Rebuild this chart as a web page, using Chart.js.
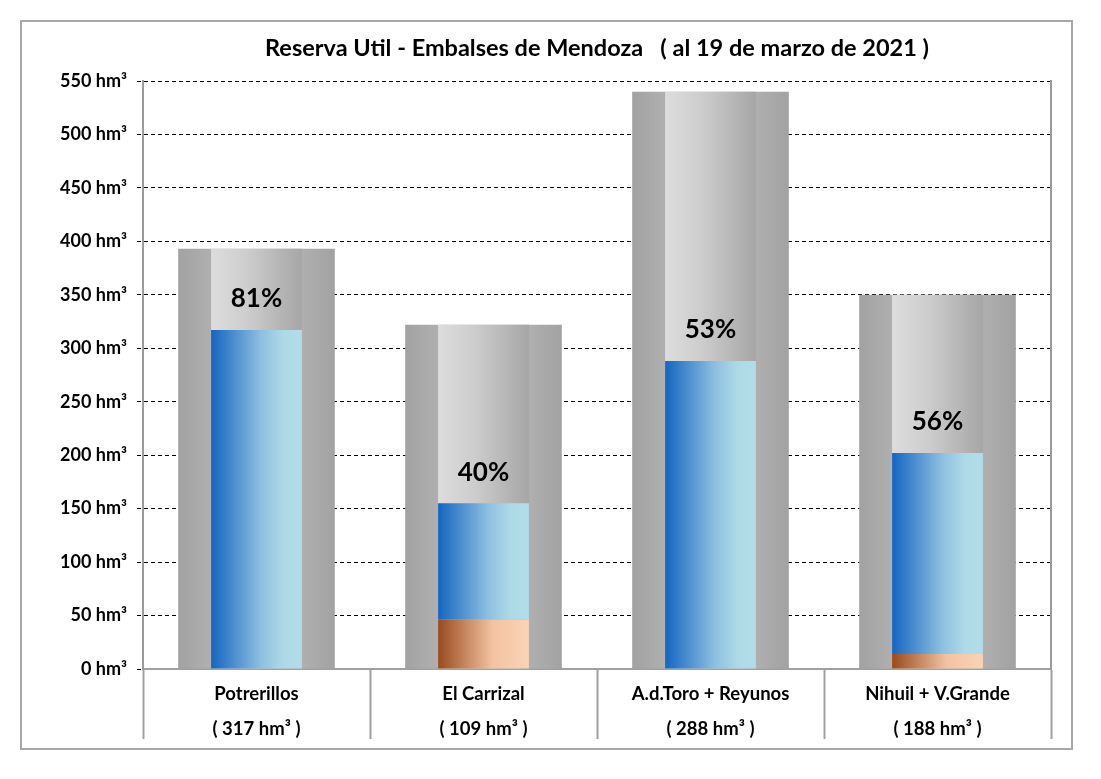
<!DOCTYPE html>
<html>
<head>
<meta charset="utf-8">
<script src="https://cdn.jsdelivr.net/npm/chart.js@4.4.0/dist/chart.umd.min.js"></script>
<style>
  html, body { margin: 0; padding: 0; background: #fff; }
  #wrap { position: relative; width: 1101px; height: 779px; }
  #frame { position: absolute; left: 20px; top: 20px; width: 1049px; height: 726px;
           border: 2px solid #a8a8a8; pointer-events: none; }
</style>
</head>
<body>
<div id="wrap">
  <canvas id="barChart"></canvas>
  <div id="frame"></div>
</div>
<script>
// Reservoir data (hm³)
const reservoirs = ["Potrerillos", "El Carrizal", "A.d.Toro + Reyunos", "Nihuil + V.Grande"];
const capacity = [393, 322, 540, 350];
const deadVolume = [0, 46, 0, 14];
const stored = [317, 109, 288, 188];
const percent = [81, 40, 53, 56];
const unit = " hm³";

const OUTER_W = 0.69;
const INNER_W = 0.40;

// horizontal gradient spanning the bar at this index
function barGradient(stops, widthRatio, fallback) {
    return function (c) {
        const chart = c.chart;
        const x = chart.scales.x;
        if (!chart.chartArea || !x || c.dataIndex === undefined) return fallback;
        const cx = x.getPixelForValue(c.dataIndex);
        const w = (chart.chartArea.width / reservoirs.length) * widthRatio;
        const g = chart.ctx.createLinearGradient(cx - w / 2, 0, cx + w / 2, 0);
        stops.forEach(s => g.addColorStop(s[0], s[1]));
        return g;
    };
}

const percentLabels = {
    id: 'percentLabels',
    afterDatasetsDraw(chart) {
        const meta = chart.getDatasetMeta(3);
        const ctx = chart.ctx;
        ctx.save();
        ctx.font = 'bold 26px Lato';
        ctx.fillStyle = '#000';
        ctx.textAlign = 'center';
        ctx.textBaseline = 'middle';
        meta.data.forEach((el, i) => {
            ctx.fillText(percent[i] + '%', el.x, el.y - 31);
        });
        ctx.restore();
    }
};

function renderChart() {
    const ctx = document.getElementById('barChart').getContext('2d');
    new Chart(ctx, {
        type: 'bar',
        data: {
            labels: reservoirs.map((r, i) => [r, '( ' + stored[i] + unit + ' )']),
            datasets: [{
                label: 'Capacidad',
                data: capacity,
                stack: 'outer',
                order: 3,
                barPercentage: OUTER_W,
                backgroundColor: barGradient([[0, '#a2a2a2'], [0.5, '#c2c2c2'], [1, '#a2a2a2']], OUTER_W, '#b0b0b0')
            }, {
                label: 'Capacidad util',
                data: capacity,
                stack: 'inner',
                order: 2,
                barPercentage: INNER_W,
                backgroundColor: barGradient([[0, '#dddddd'], [0.4, '#cdcdcd'], [1, '#a6a6a6']], INNER_W, '#cccccc')
            }, {
                label: 'Volumen muerto',
                data: deadVolume,
                stack: 'fill',
                order: 1,
                barPercentage: INNER_W,
                backgroundColor: barGradient([[0, '#9a4a1e'], [0.6, '#f2c3a2'], [1, '#fad3b6']], INNER_W, '#d08a60')
            }, {
                label: 'Reserva',
                data: stored,
                stack: 'fill',
                order: 1,
                barPercentage: INNER_W,
                backgroundColor: barGradient([[0, '#1565c0'], [0.55, '#8ebfe0'], [0.8, '#aedae7'], [1, '#b2dde8']], INNER_W, '#6fa8d8')
            }]
        },
        options: {
            responsive: true,
            maintainAspectRatio: false,
            animation: false,
            devicePixelRatio: 1,
            datasets: {
                bar: { grouped: false, categoryPercentage: 1, borderWidth: 0 }
            },
            layout: { padding: { top: 34, left: 48, right: 50, bottom: 40 } },
            plugins: {
                legend: { display: false },
                tooltip: { enabled: false },
                title: {
                    display: true,
                    fullSize: false,
                    text: 'Reserva Util - Embalses de Mendoza   ( al 19 de marzo de 2021 )',
                    color: '#000',
                    font: { family: 'Lato', size: 23.5, weight: 'bold' },
                    padding: { top: 0, bottom: 18.8 }
                }
            },
            scales: {
                x: {
                    z: 1,
                    grid: {
                        offset: true,
                        drawOnChartArea: false,
                        drawTicks: true,
                        tickLength: 70,
                        tickColor: '#a0a0a0',
                        tickWidth: 2
                    },
                    border: { color: '#a0a0a0', width: 2 },
                    ticks: {
                        color: '#000',
                        padding: -62.5,
                        maxRotation: 0,
                        font: { family: 'Lato', size: 18.5, weight: 'bold', lineHeight: '35px' }
                    },
                    afterFit(s) { s.height = 70; }
                },
                y: {
                    stacked: true,
                    min: 0,
                    max: 550,
                    grid: {
                        color: '#000',
                        lineWidth: 1,
                        tickLength: 6,
                        tickColor: '#000',
                        tickBorderDash: [4, 3]
                    },
                    border: { color: '#9a9a9a', width: 2, dash: [4, 3] },
                    ticks: {
                        stepSize: 50,
                        color: '#000',
                        padding: 10,
                        font: { family: 'Lato', size: 18, weight: 'bold' },
                        callback: v => v + unit
                    },
                    afterFit(s) { s.width = 95; }
                },
                yRight: {
                    position: 'right',
                    grid: { display: false, drawTicks: false },
                    ticks: { display: false },
                    border: { color: '#9a9a9a', width: 2 },
                    afterFit(s) { s.width = 0; }
                }
            }
        },
        plugins: [percentLabels]
    });
}

renderChart();
</script>
</body>
</html>
